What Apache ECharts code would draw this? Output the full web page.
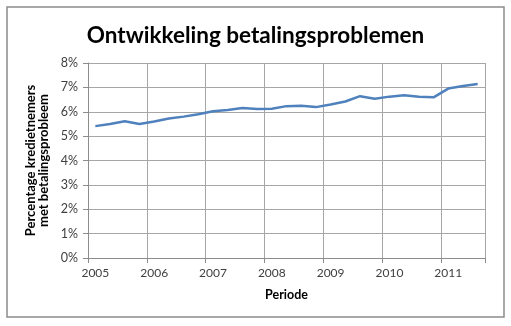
<!DOCTYPE html>
<html><head><meta charset="utf-8">
<script src="https://cdn.jsdelivr.net/npm/echarts@6/dist/echarts.min.js"></script>
<style>html,body{margin:0;padding:0;background:#fff}#c{width:511px;height:326px}</style>
</head><body><div id="c"></div>
<script>
const categories = ["2005","2005 Q2","2005 Q3","2005 Q4","2006","2006 Q2","2006 Q3","2006 Q4","2007","2007 Q2","2007 Q3","2007 Q4","2008","2008 Q2","2008 Q3","2008 Q4","2009","2009 Q2","2009 Q3","2009 Q4","2010","2010 Q2","2010 Q3","2010 Q4","2011","2011 Q2","2011 Q3"];
const values = [5.41,5.50,5.61,5.50,5.60,5.72,5.80,5.90,6.02,6.07,6.15,6.11,6.12,6.23,6.25,6.19,6.30,6.42,6.64,6.53,6.62,6.68,6.62,6.59,6.95,7.06,7.14];
const title = "Ontwikkeling betalingsproblemen";
const yTitle = "Percentage kredietnemers\nmet betalingsprobleem";
const xTitle = "Periode";

const chart = echarts.init(document.getElementById('c'), null, {renderer:'canvas'});
const font = 'Lato, "Open Sans", sans-serif';
chart.setOption({
  animation:false,
  backgroundColor:'#fff',
  graphic:[{type:'rect',shape:{x:7,y:7,width:497,height:310},style:{fill:'none',stroke:'#8c8c8c',lineWidth:1.5},silent:true}],
  title:{text:title,left:'center',top:19,textStyle:{fontFamily:font,fontSize:22.5,fontWeight:'bold',color:'#000'}},
  grid:{left:88,right:26,top:63,bottom:68},
  xAxis:{type:'category',data:categories,boundaryGap:true,
    name:xTitle,nameLocation:'middle',nameGap:30,
    nameTextStyle:{fontFamily:font,fontSize:12.5,fontWeight:'bold',color:'#000'},
    axisLine:{lineStyle:{color:'#8c8c8c',width:1}},
    axisTick:{show:true,interval:3,length:5,lineStyle:{color:'#8c8c8c'}},
    axisLabel:{interval:3,formatter:v=>v.slice(0,4),fontFamily:font,fontSize:12,color:'#404040',margin:9},
    splitLine:{show:true,interval:3,lineStyle:{color:'#a6a6a6',width:1}}},
  yAxis:{type:'value',min:0,max:8,interval:1,
    name:yTitle,nameLocation:'middle',nameGap:38,nameRotate:90,
    nameTextStyle:{fontFamily:font,fontSize:13,fontWeight:'bold',color:'#000',lineHeight:13},
    axisLine:{show:true,lineStyle:{color:'#8c8c8c',width:1}},
    axisTick:{show:true,length:5,lineStyle:{color:'#8c8c8c'}},
    axisLabel:{formatter:v=>v+'%',fontFamily:font,fontSize:12.5,color:'#404040',margin:10},
    splitLine:{show:true,lineStyle:{color:'#a6a6a6',width:1}}},
  series:[{type:'line',data:values,showSymbol:false,lineStyle:{color:'#4f81bd',width:2.5},itemStyle:{color:'#4f81bd'}}]
});
</script></body></html>
